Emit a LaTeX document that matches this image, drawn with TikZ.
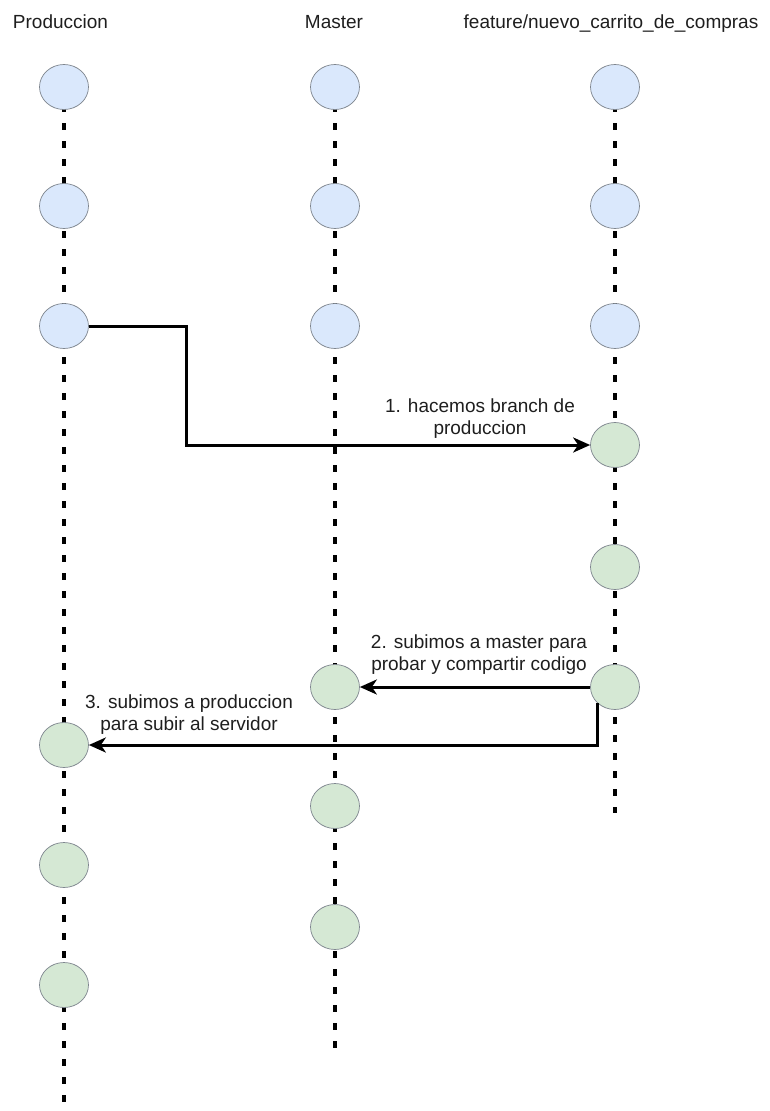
\documentclass[tikz,border=0pt]{standalone}
\usepackage{fontspec}
\setmainfont{Liberation Sans}
\usetikzlibrary{arrows.meta,shapes.geometric}

\definecolor{commitblue}{HTML}{DAE8FC}
\definecolor{commitgreen}{HTML}{D5E8D4}
\definecolor{commitedge}{HTML}{7E858E}
\definecolor{labeltext}{HTML}{1E1E1E}

\tikzset{
  lane/.style={line width=3.2pt, dash pattern=on 7pt off 11pt, black},
  commit/.style={ellipse, draw=commitedge, line width=0.7pt,
    minimum width=49pt, minimum height=45pt, inner sep=0pt},
  oldcommit/.style={commit, fill=commitblue},
  newcommit/.style={commit, fill=commitgreen},
  heading/.style={font=\fontsize{19}{22}\selectfont, text=labeltext, anchor=base, inner sep=0pt},
  steplabel/.style={font=\fontsize{19}{22}\selectfont, text=labeltext, align=center, anchor=base, inner sep=0pt},
  flow/.style={line width=3pt, black,
    -{Stealth[length=17pt, width=15pt, inset=5pt]}},
}

\begin{document}
\begin{tikzpicture}[x=1pt, y=-1pt]
  \useasboundingbox (0,0) rectangle (769,1111);

  % branch headings
  \node[heading] (hprod) at (60.5,28) {Produccion};
  \node[heading] (hmaster) at (334,28) {Master};
  \node[heading] (hfeature) at (611,28) {feature/nuevo\_carrito\_de\_compras};

  % timelines
  \coordinate (prodend) at (64,1111);
  \coordinate (masterend) at (335,1052);
  \coordinate (featend) at (615,813);
  \draw[lane] (64,87) -- (prodend);
  \draw[lane] (335,87) -- (masterend);
  \draw[lane] (615,87) -- (featend);

  % Produccion commits
  \node[oldcommit] (p1) at (64,87) {};
  \node[oldcommit] (p2) at (64,206) {};
  \node[oldcommit] (p3) at (64,326) {};
  \node[newcommit] (p4) at (64,745) {};
  \node[newcommit] (p5) at (64,865) {};
  \node[newcommit] (p6) at (64,985) {};

  % Master commits
  \node[oldcommit] (m1) at (335,87) {};
  \node[oldcommit] (m2) at (335,206) {};
  \node[oldcommit] (m3) at (335,326) {};
  \node[newcommit] (m4) at (335,687) {};
  \node[newcommit] (m5) at (335,806) {};
  \node[newcommit] (m6) at (335,927) {};

  % feature branch commits
  \node[oldcommit] (f1) at (615,87) {};
  \node[oldcommit] (f2) at (615,206) {};
  \node[oldcommit] (f3) at (615,326) {};
  \node[newcommit] (f4) at (615,445) {};
  \node[newcommit] (f5) at (615,567) {};
  \node[newcommit] (f6) at (615,687) {};

  % 1. branch off Produccion
  \coordinate (bend) at (186,0);
  \draw[flow] (p3.east) -- (p3.east -| bend) |- (f4.west);
  \node[steplabel] (l1) at (480,434) {1. hacemos branch de\\produccion};

  % 2. merge into Master
  \draw[flow] (f6.west) -- (m4.east);
  \node[steplabel] (l2) at (479,670) {2. subimos a master para\\probar y compartir codigo};

  % 3. merge into Produccion
  \draw[flow] (f6.south west) |- (p4.east);
  \node[steplabel] (l3) at (189,730) {3. subimos a produccion\\para subir al servidor};
\end{tikzpicture}
\end{document}
